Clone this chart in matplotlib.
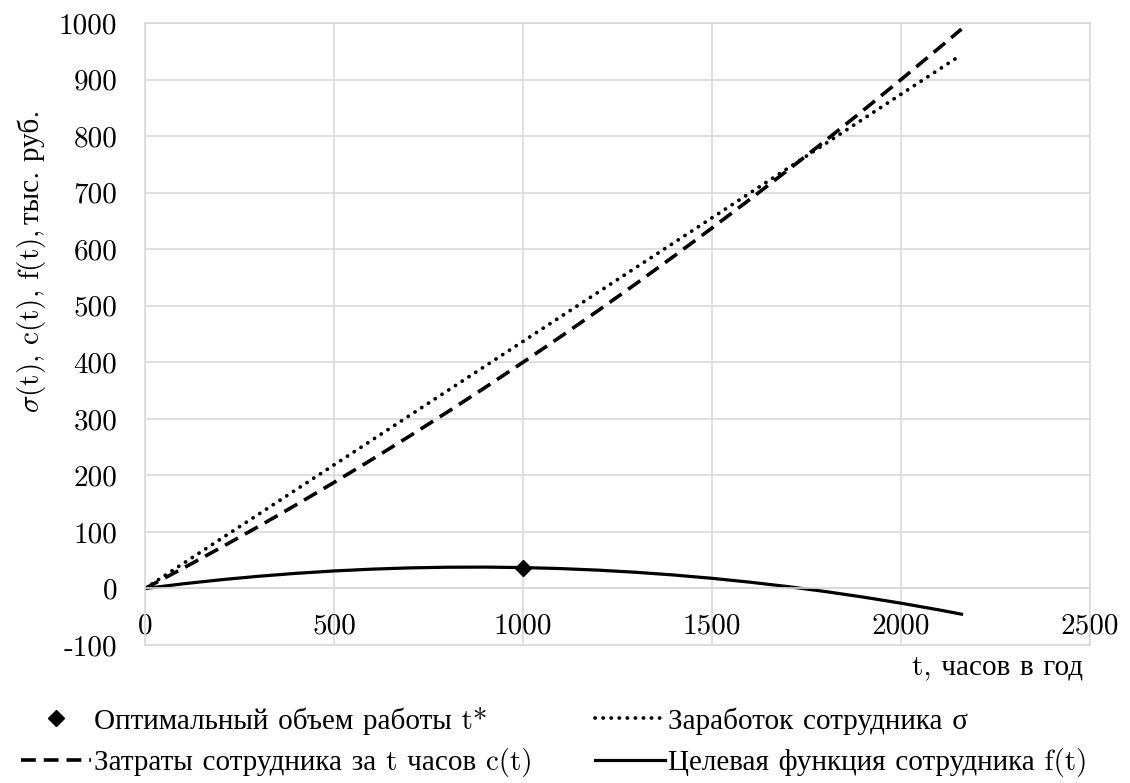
import matplotlib
matplotlib.use("Agg")
import matplotlib.pyplot as plt

plt.rcParams['font.family'] = ['cmr10', 'Liberation Serif']
plt.rcParams['mathtext.fontset'] = 'cm'
plt.rcParams['axes.unicode_minus'] = False

# часы в год
t = [0, 100, 200, 300, 400, 500, 600, 700, 800, 900, 1000, 1100,
     1200, 1300, 1400, 1500, 1600, 1700, 1800, 1900, 2000, 2100, 2160]
# заработок сотрудника sigma(t)
sigma = [0, 43.7, 87.4, 131.1, 174.8, 218.5, 262.2, 305.9, 349.6, 393.3,
         437.0, 480.7, 524.4, 568.1, 611.8, 655.5, 699.2, 742.9, 786.6,
         830.3, 874.0, 917.7, 943.9]
# затраты c(t)
cost = [0, 35.5, 72.0, 109.5, 148.0, 187.5, 228.0, 269.5, 312.0, 355.5,
        400.0, 445.5, 492.0, 539.5, 588.0, 637.5, 688.0, 739.5, 792.0,
        845.5, 900.0, 955.5, 989.3]
# целевая функция f(t)
f = [0, 8.2, 15.4, 21.6, 26.8, 31.0, 34.2, 36.4, 37.6, 37.8, 37.0, 35.2,
     32.4, 28.6, 23.8, 18.0, 11.2, 3.4, -5.4, -15.2, -26.0, -37.8, -45.4]
t_opt = [1000]
f_opt = [37.0]

xticks = [0, 500, 1000, 1500, 2000, 2500]
yticks = [-100, 0, 100, 200, 300, 400, 500, 600, 700, 800, 900, 1000]

lab_opt = 'Оптимальный объем работы t*'
lab_sigma = 'Заработок сотрудника σ'
lab_cost = 'Затраты сотрудника за t часов c(t)'
lab_f = 'Целевая функция сотрудника f(t)'

fs = 21
grid_c = '#d9d9d9'

fig = plt.figure(figsize=(11.3, 7.83), dpi=100)
ax = fig.add_axes([0.1283, 0.1762, 0.8363, 0.7944])

l_sig, = ax.plot(t, sigma, color='black', lw=2.7, linestyle=(0, (0.05, 2.1)),
                 dash_capstyle='round')
l_cost, = ax.plot(t, cost, color='black', lw=2.6, linestyle=(0, (4.1, 2.2)))
l_f, = ax.plot(t, f, color='black', lw=2.3)
l_opt, = ax.plot(t_opt, f_opt, linestyle='none', marker='D', markersize=8,
                 color='black')

ax.set_xlim(0, 2500)
ax.set_ylim(-100, 1000)
ax.set_xticks(xticks, [str(v) for v in xticks])
ax.set_yticks(yticks, [str(v) for v in yticks])
ax.grid(True, color=grid_c, lw=1.2)
ax.set_axisbelow(True)
for s in ax.spines.values():
    s.set_color(grid_c)
    s.set_linewidth(1.2)
ax.spines['bottom'].set_position(('data', 0))
ax.axhline(-100, color=grid_c, lw=1.2, clip_on=False, zorder=0.5)
ax.tick_params(axis='both', length=0, labelsize=fs)
ax.tick_params(axis='y', pad=20)
ax.tick_params(axis='x', pad=17.5)

fig.text(1083 / 1130, 1 - 667 / 783, 't, часов в год', fontsize=fs,
         ha='right', va='center')

# подпись оси y: sigma курсивом (mathtext), остальное обычным текстом
W, H = 1130, 783
y1 = fig.text(39 / W, 1 - 413 / H, '$\\sigma$(t), c(t), f(t), ', fontsize=fs,
              rotation=90, rotation_mode='anchor', ha='left', va='baseline')
fig.canvas.draw()
bb = y1.get_window_extent()
fig.text(39 / W, bb.y1 / H + 0.004, 'тыс. руб.', fontsize=fs,
         rotation=90, rotation_mode='anchor', ha='left', va='baseline')

fig.legend([l_opt, l_cost, l_sig, l_f], [lab_opt, lab_cost, lab_sigma, lab_f],
           loc='upper left', ncol=2,
           bbox_to_anchor=(0.008, 1 - 695 / 783), frameon=False,
           fontsize=fs, handlelength=2.4, handletextpad=0.1,
           columnspacing=2.15, labelspacing=0.45, borderaxespad=0)

fig.savefig('out.png', dpi=100)
